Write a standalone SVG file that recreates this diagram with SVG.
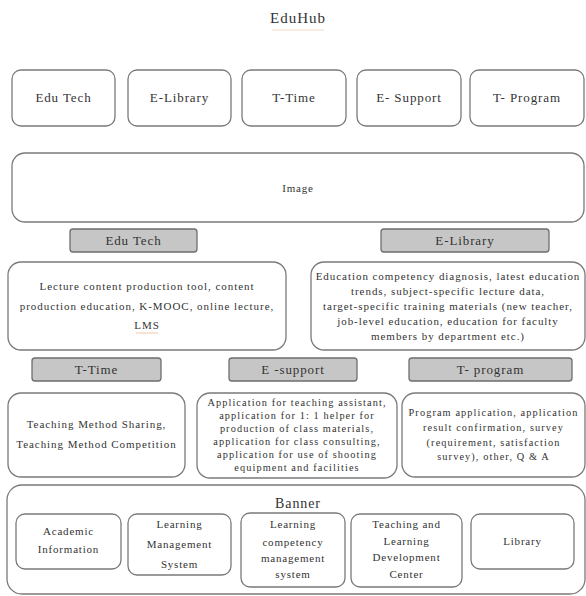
<svg xmlns="http://www.w3.org/2000/svg" width="586" height="596" viewBox="0 0 586 596">
<style>
text{font-family:"Liberation Serif","DejaVu Serif",serif;fill:#333;text-anchor:middle;letter-spacing:0.5px}
.box{fill:#fff;stroke:#7a7a7a;stroke-width:1.3}
.lab{fill:#c6c6c6;stroke:#6e6e6e;stroke-width:1.3}
.t12{font-size:13px;letter-spacing:0.9px}
.t10{font-size:11px;letter-spacing:0.95px}
.t9{font-size:10.3px;letter-spacing:1.1px}
.tb{font-size:11px;letter-spacing:0.8px}
</style>
<rect width="586" height="596" fill="#fff"/>
<g id="title"><text x="298" y="23" style="font-size:15px;letter-spacing:1px">EduHub</text><line x1="272" y1="30" x2="324" y2="30" stroke="#f3d9c4" stroke-width="1"/></g>

<g id="top-edutech"><rect class="box" x="12" y="70" width="103" height="56" rx="9"/><text class="t12" x="63.5" y="102">Edu Tech</text></g>
<g id="top-elibrary"><rect class="box" x="128" y="70" width="103" height="56" rx="9"/><text class="t12" x="179.5" y="102">E-Library</text></g>
<g id="top-ttime"><rect class="box" x="242" y="70" width="104" height="56" rx="9"/><text class="t12" x="294" y="102">T-Time</text></g>
<g id="top-esupport"><rect class="box" x="357" y="70" width="104" height="56" rx="9"/><text class="t12" x="409" y="102">E- Support</text></g>
<g id="top-tprogram"><rect class="box" x="470" y="70" width="114" height="56" rx="9"/><text class="t12" x="527" y="102">T- Program</text></g>

<g id="image"><rect class="box" x="12" y="153" width="572" height="69" rx="13"/><text class="tb" x="298" y="192">Image</text></g>

<g id="lab-edutech"><rect class="lab" x="70" y="229" width="127" height="23" rx="3"/><text class="t12" x="133.5" y="245">Edu Tech</text></g>
<g id="lab-elibrary"><rect class="lab" x="381" y="229" width="168" height="23" rx="3"/><text class="t12" x="465" y="245">E-Library</text></g>

<g id="content-edutech"><rect class="box" x="8" y="262" width="278" height="88" rx="13"/>
<text class="t10" x="147" y="290">Lecture content production tool, content</text>
<text class="t10" x="147" y="310">production education, K-MOOC, online lecture,</text>
<text class="t10" x="147" y="329">LMS</text>
<line x1="136" y1="333" x2="158" y2="333" stroke="#f0c8a8" stroke-width="1"/></g>

<g id="content-elibrary"><rect class="box" x="311" y="262" width="274" height="88" rx="13"/>
<text class="t10" x="448" y="280">Education competency diagnosis, latest education</text>
<text class="t10" x="448" y="295">trends, subject-specific lecture data,</text>
<text class="t10" x="448" y="310">target-specific training materials (new teacher,</text>
<text class="t10" x="448" y="325">job-level education, education for faculty</text>
<text class="t10" x="448" y="340">members by department etc.)</text></g>

<g id="lab-ttime"><rect class="lab" x="32" y="358" width="129" height="23" rx="3"/><text class="t12" x="96.5" y="374">T-Time</text></g>
<g id="lab-esupport"><rect class="lab" x="229" y="358" width="128" height="23" rx="3"/><text class="t12" x="293" y="374">E -support</text></g>
<g id="lab-tprogram"><rect class="lab" x="409" y="358" width="163" height="23" rx="3"/><text class="t12" x="490.5" y="374">T- program</text></g>

<g id="content-ttime"><rect class="box" x="8" y="393" width="177" height="84" rx="13"/>
<text class="t10" x="96.5" y="428">Teaching Method Sharing,</text>
<text class="t10" x="96.5" y="448">Teaching Method Competition</text></g>

<g id="content-esupport"><rect class="box" x="197" y="393" width="200" height="85" rx="13"/>
<text class="t9" x="297" y="406">Application for teaching assistant,</text>
<text class="t9" x="297" y="419">application for 1: 1 helper for</text>
<text class="t9" x="297" y="432">production of class materials,</text>
<text class="t9" x="297" y="445">application for class consulting,</text>
<text class="t9" x="297" y="458">application for use of shooting</text>
<text class="t9" x="297" y="471">equipment and facilities</text></g>

<g id="content-tprogram"><rect class="box" x="402" y="393" width="183" height="84" rx="13"/>
<text class="t9" x="493.5" y="416">Program application, application</text>
<text class="t9" x="493.5" y="431">result confirmation, survey</text>
<text class="t9" x="493.5" y="446">(requirement, satisfaction</text>
<text class="t9" x="493.5" y="460">survey), other, Q &amp; A</text></g>

<g id="banner"><rect class="box" x="7" y="485" width="578" height="109" rx="15"/><text x="298" y="508" style="font-size:14px;letter-spacing:0.9px">Banner</text></g>

<g id="b-academic"><rect class="box" x="16" y="514" width="105" height="55" rx="9"/>
<text class="tb" x="68.5" y="535">Academic</text>
<text class="tb" x="68.5" y="553">Information</text></g>
<g id="b-lms"><rect class="box" x="128" y="514" width="103" height="61" rx="9"/>
<text class="tb" x="179.5" y="528">Learning</text>
<text class="tb" x="179.5" y="548">Management</text>
<text class="tb" x="179.5" y="568">System</text></g>
<g id="b-lcms"><rect class="box" x="241" y="513" width="104" height="74" rx="9"/>
<text class="tb" x="293" y="528">Learning</text>
<text class="tb" x="293" y="546">competency</text>
<text class="tb" x="293" y="562">management</text>
<text class="tb" x="293" y="578">system</text></g>
<g id="b-tldc"><rect class="box" x="351" y="514" width="111" height="73" rx="9"/>
<text class="tb" x="406.5" y="528">Teaching and</text>
<text class="tb" x="406.5" y="545">Learning</text>
<text class="tb" x="406.5" y="561">Development</text>
<text class="tb" x="406.5" y="578">Center</text></g>
<g id="b-library"><rect class="box" x="471" y="514" width="103" height="55" rx="9"/>
<text class="tb" x="522.5" y="545">Library</text></g>

<g id="connectors"></g>
</svg>
